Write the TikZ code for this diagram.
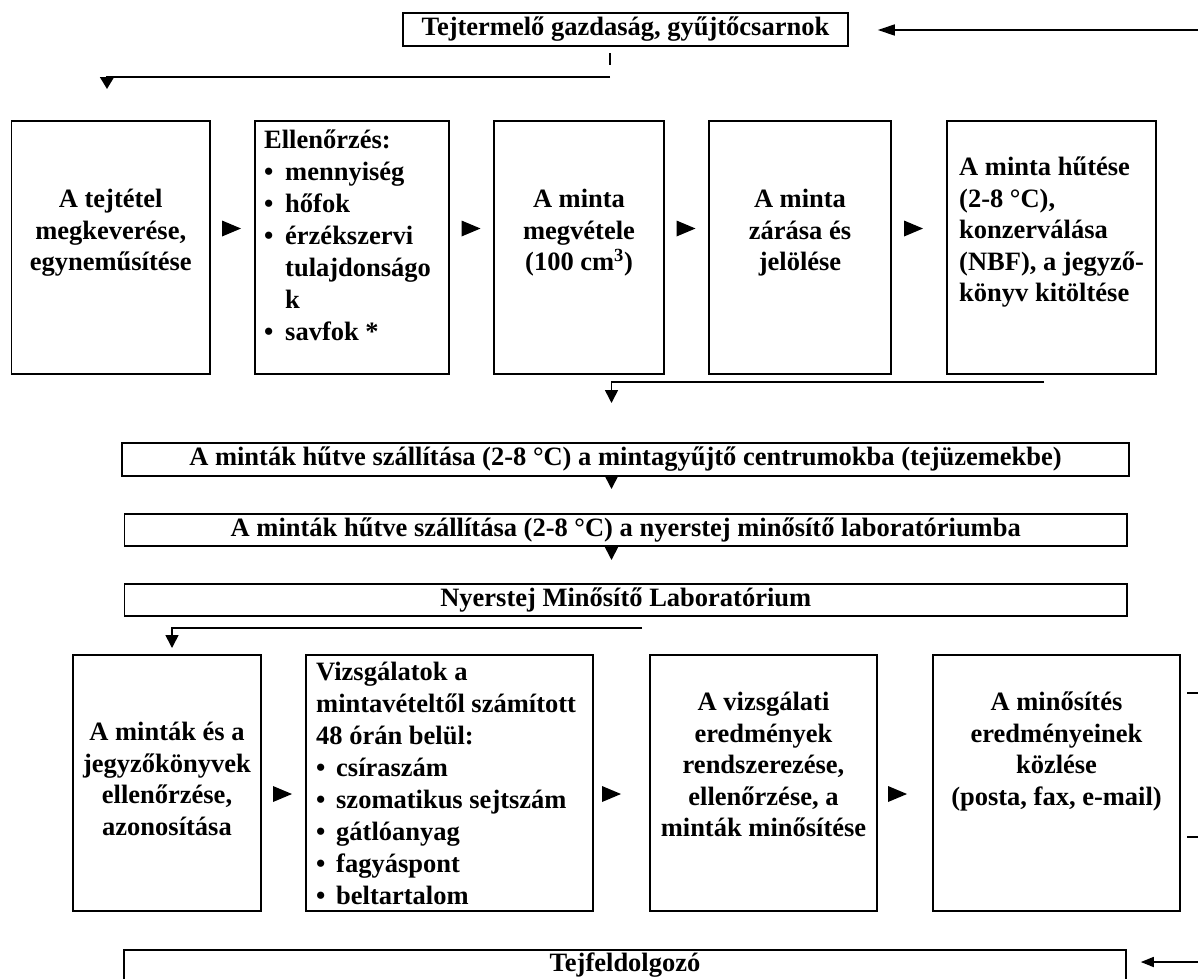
\documentclass[tikz,border=0pt]{standalone}
\usepackage{fontspec}
\setmainfont{Liberation Serif}
\usetikzlibrary{arrows.meta,calc}
\newcommand{\fl}{\rule{0pt}{25pt}}
\newcommand{\bul}[1]{\makebox[#1][l]{•}}
\begin{document}
\begin{tikzpicture}[x=1pt,y=-1pt,
  box/.style={draw, line width=1.6pt, inner sep=0pt},
  txt/.style={font=\bfseries\fontsize{26.5}{31.5}\selectfont, inner sep=0pt},
  listtxt/.style={font=\bfseries\fontsize{26.5}{32}\selectfont, inner sep=0pt, align=left, anchor=north west},
  conn/.style={line width=1.6pt},
  arr/.style={conn, -{Triangle[length=13pt,width=13pt]}},
  tri/.style={fill=black}]
\useasboundingbox (0,0) rectangle (1198,978);

% ---------- top ----------
\node[box, txt, minimum width=445pt, minimum height=33pt] (farm) at (625.5,29.5) {Tejtermelő gazdaság, gyűjtőcsarnok};

% top row boxes
\node[box, minimum width=198.5pt, minimum height=253pt] (b1) at (110.75,247.5) {};
\node[box, minimum width=194pt,   minimum height=253pt] (b2) at (352,247.5) {};
\node[box, minimum width=170pt,   minimum height=253pt] (b3) at (579,247.5) {};
\node[box, minimum width=182pt,   minimum height=253pt] (b4) at (800,247.5) {};
\node[box, minimum width=209pt,   minimum height=253pt] (b5) at (1051.5,247.5) {};

\node[txt, align=center, anchor=north] (t1) at (110.75,182.5) {\fl A tejtétel\\megkeverése,\\egyneműsítése};
\node[listtxt] (t2) at (264,123) {\fl Ellenőrzés:\\\bul{21pt}mennyiség\\\bul{21pt}hőfok\\\bul{21pt}érzékszervi\\\hspace*{21pt}tulajdonságo\\\hspace*{21pt}k\\\bul{21pt}savfok *};
\node[txt, align=center, anchor=north] (t3) at (579,182.5) {\fl A minta\\megvétele\\(100 cm\textsuperscript{3})};
\node[txt, align=center, anchor=north] (t4) at (800,182.5) {\fl A minta\\zárása és\\jelölése};
\node[txt, align=left, anchor=north west] (t5) at (959,150.5) {\fl A minta hűtése\\(2-8 °C),\\konzerválása\\(NBF), a jegyző-\\könyv kitöltése};

% transport boxes
\node[box, txt, minimum width=1007pt, minimum height=33pt] (tr1) at (625.5,459.5) {A minták hűtve szállítása (2-8 °C) a mintagyűjtő centrumokba (tejüzemekbe)};
\node[box, txt, minimum width=1002.5pt, minimum height=32pt] (tr2) at (625.75,530) {A minták hűtve szállítása (2-8 °C) a nyerstej minősítő laboratóriumba};
\node[box, txt, minimum width=1002.5pt, minimum height=32pt] (tr3) at (625.75,600) {Nyerstej Minősítő Laboratórium};

% bottom row boxes
\node[box, minimum width=188pt, minimum height=256pt] (c1) at (167,783) {};
\node[box, minimum width=287pt, minimum height=256pt] (c2) at (449.5,783) {};
\node[box, minimum width=227pt, minimum height=256pt] (c3) at (763.5,783) {};
\node[box, minimum width=247pt, minimum height=256pt] (c4) at (1056.5,783) {};

\node[txt, align=center, anchor=north] (u1) at (167,715.5) {\fl A minták és a\\jegyzőkönyvek\\ellenőrzése,\\azonosítása};
\node[listtxt] (u2) at (316,655.5) {\fl Vizsgálatok a\\mintavételtől számított\\48 órán belül:\\\bul{20pt}csíraszám\\\bul{20pt}szomatikus sejtszám\\\bul{20pt}gátlóanyag\\\bul{20pt}fagyáspont\\\bul{20pt}beltartalom};
\node[txt, align=center, anchor=north] (u3) at (763.5,685.5) {\fl A vizsgálati\\eredmények\\rendszerezése,\\ellenőrzése, a\\minták minősítése};
\node[txt, align=center, anchor=north] (u4) at (1056.5,685.5) {\fl A minősítés\\eredményeinek\\közlése\\(posta, fax, e-mail)};

% processor box (cut off at the bottom)
\node[box, txt, anchor=north, minimum width=1002pt, text height=18pt, text depth=5pt, inner ysep=4pt] (proc) at (625,949) {Tejfeldolgozó};

% ---------- connectors ----------
\coordinate (inR) at (1198,30);
\draw[conn, -{Triangle[length=17pt,width=11pt]}] (inR) -- ([xshift=29pt]farm.east |- inR);

\coordinate (tk1) at (610,53);
\coordinate (tk2) at (610,65);
\draw[line width=1.4pt] (tk1) -- (tk2);

\coordinate (l1a) at (610,77);
\coordinate (l1b) at (107,77);
\coordinate (l1c) at (107,89);
\draw[conn, -{Triangle[length=12pt,width=14pt]}] (l1a) -- (l1b) -- (l1c);

\coordinate (l2a) at (1044,382);
\coordinate (l2b) at (611.5,382);
\coordinate (l2c) at (611.5,403);
\draw[arr] (l2a) -- (l2b) -- (l2c);

\coordinate (d1) at (611.5,489);
\draw[arr] (tr1.south -| d1) -- (d1);
\coordinate (d2) at (611.5,560);
\draw[arr] (tr2.south -| d2) -- (d2);

\coordinate (l3a) at (642,628);
\coordinate (l3b) at (172,628);
\coordinate (l3c) at (172,648);
\draw[arr] (l3a) -- (l3b) -- (l3c);

\coordinate (rt1) at (1187,693);
\coordinate (rt2) at (1187,837);
\draw[line width=1.4pt] (rt1) -- ++(11,0);
\draw[line width=1.4pt] (rt2) -- ++(11,0);

\coordinate (inP) at (1198,962);
\draw[conn, -{Triangle[length=13pt,width=10pt]}] (inP) -- ([xshift=14pt]proc.east |- inP);

% step markers
\foreach \n/\x/\y in {p1/231.5/228.5, p2/471/228.5, p3/686/228.5, p4/913.5/228.5,
                      q1/282.5/794, q2/611.5/794, q3/897.5/794} {
  \coordinate (\n) at (\x,\y);
  \fill[tri] (\n) ++(-9.5,-8) -- ++(19,8) -- ++(-19,8) -- cycle;
}
\end{tikzpicture}
\end{document}
